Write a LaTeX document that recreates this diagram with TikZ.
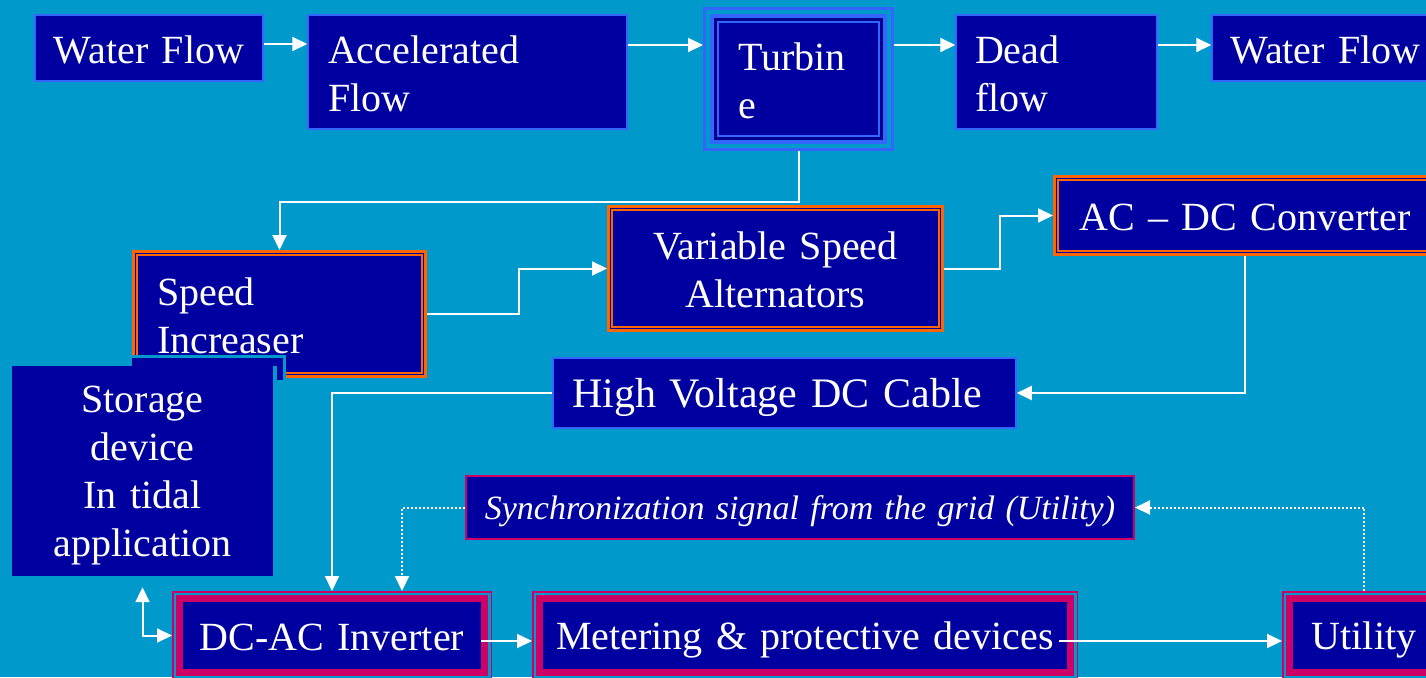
\documentclass[tikz,border=0pt]{standalone}
\usepackage{fontspec}
\setmainfont{Liberation Serif}
\usetikzlibrary{arrows.meta,calc}
\definecolor{bgc}{HTML}{0099CC}
\definecolor{navy}{HTML}{0000A0}
\definecolor{dnavy}{HTML}{00008C}
\definecolor{lblue}{HTML}{3366FF}
\definecolor{org}{HTML}{FF6600}
\definecolor{mag}{HTML}{CC0066}
\newcommand\ms{\rule[-0.15em]{0pt}{1.05em}}
\begin{document}
\begin{tikzpicture}[x=1pt,y=1pt,
  every node/.style={font=\fontsize{40}{48}\selectfont, text=white, inner sep=0pt},
  thinbox/.style={draw=lblue, line width=1.5pt, fill=navy},
  orgbox/.style={draw=org, line width=3pt, fill=navy,
    path picture={\draw[org,line width=2pt] ([shift={(3.8pt,-3.8pt)}]path picture bounding box.north west) rectangle ([shift={(-3.8pt,3.8pt)}]path picture bounding box.south east);}},
  magbox/.style={draw=mag, line width=1.5pt, fill=bgc,
    path picture={\draw[mag,line width=7pt,fill=navy] ([shift={(6.75pt,-6.75pt)}]path picture bounding box.north west) rectangle ([shift={(-6.75pt,6.75pt)}]path picture bounding box.south east);}},
  turbox/.style={draw=lblue, line width=3pt, fill=bgc,
    path picture={\draw[lblue,line width=4pt,fill=dnavy] ([shift={(7.5pt,-7.5pt)}]path picture bounding box.north west) rectangle ([shift={(-7.5pt,7.5pt)}]path picture bounding box.south east);
    \draw[lblue,line width=2pt,fill=navy] ([shift={(13.5pt,-13.5pt)}]path picture bounding box.north west) rectangle ([shift={(-13.5pt,13.5pt)}]path picture bounding box.south east);}},
  arr/.style={draw=white, line width=2pt, -{Triangle[length=15pt,width=14pt]}},
  arrd/.style={arr, dash pattern=on 2pt off 2pt},
  arrb/.style={draw=white, line width=2pt, {Triangle[length=15pt,width=14pt]}-{Triangle[length=15pt,width=14pt]}}
]
\useasboundingbox (0,0) rectangle (1426,-677);
\clip (0,0) rectangle (1426,-677);
\fill[bgc] (0,0) rectangle (1426,-677);

% top row
\node[thinbox, minimum height=66pt, text width=228pt, align=center] (wf1) at (149,-48) {\ms Water Flow};
\node[thinbox, minimum height=114pt, text width=279pt, inner xsep=20pt, align=left] (acc) at (467.5,-72) {\ms Accelerated\\\ms Flow};
\node[turbox, minimum height=141pt, text width=121pt, inner xsep=33.5pt, align=left] (tur) at (798.5,-79) {\ms Turbin\\\ms e};
\node[thinbox, minimum height=114pt, text width=163pt, inner xsep=19pt, align=left] (dead) at (1056.5,-72) {\ms Dead\\\ms flow};
\node[thinbox, minimum height=66pt, text width=227pt, align=center] (wf2) at (1325.5,-48) {\ms Water Flow};

% middle
\node[orgbox, minimum height=125pt, text width=245pt, inner xsep=23.5pt, align=left] (si) at (279.5,-314) {\ms Speed\\\ms Increaser};
\node[orgbox, minimum height=124pt, text width=334pt, align=center] (vsa) at (775.5,-268.5) {\ms Variable Speed\\\ms Alternators};
\node[orgbox, minimum height=78pt, text width=381pt, align=center] (acdc) at (1245,-215.5) {\ms AC – DC Converter};
\node[thinbox, minimum height=70pt, text width=425pt, inner xsep=19pt, align=left, font=\fontsize{42}{48}\selectfont] (hv) at (784.5,-393) {\ms High Voltage DC Cable};

% storage overlay
\fill[navy] (131.5,-356) rectangle (284,-380);
\draw[bgc, line width=3pt] (131.5,-356) -- (284,-356) -- (284,-380);
\node[fill=navy, minimum height=210pt, text width=261pt, align=center] (st) at (142.5,-471) {\ms Storage\\\ms device\\\ms In tidal\\\ms application};
\draw[bgc, line width=4pt] ([xshift=2pt]st.north east) -- ([xshift=2pt,yshift=-14pt]st.north east);

% sync
\node[draw=mag, line width=2pt, fill=navy, minimum height=63pt, text width=668pt, align=center, font=\fontsize{34}{40}\selectfont\itshape] (sy) at (800,-507.5) {\ms Synchronization signal from the grid (Utility)};

% bottom row
\node[magbox, minimum height=87.5pt, text width=318.5pt, align=center] (inv) at (332,-635.5) {\ms DC-AC Inverter};
\node[magbox, minimum height=87.5pt, text width=544.5pt, align=center] (met) at (805,-635.5) {\ms Metering \& protective devices};
\node[magbox, minimum height=87.5pt, text width=162.5pt, align=center] (ut) at (1364,-635.5) {\ms Utility};

% connectors
\draw[arr] (wf1.east |- 0,-44) -- (acc.west |- 0,-44);
\draw[arr] (acc.east |- 0,-45) -- (tur.west |- 0,-45);
\draw[arr] (tur.east |- 0,-45) -- (dead.west |- 0,-45);
\draw[arr] (dead.east |- 0,-45) -- (wf2.west |- 0,-45);
\draw[arr] (tur.south) -- ++(0,-50.5) -| (si.north);
\draw[arr] (si.east) -- ++(91.5,0) |- (vsa.west);
\draw[arr] (vsa.east) -- ++(55.5,0) |- (acdc.west);
\draw[arr] (acdc.south) |- (hv.east);
\draw[arr] (hv.west) -| (inv.north);
\draw[arrd] (sy.west) -| ([xshift=70pt]inv.north);
\draw[arrd] (ut.north) |- (sy.east);
\draw[arrb] ([yshift=-11pt]st.south) |- (inv.west);
\draw[arr] ([shift={(-11pt,-5.5pt)}]inv.east) -- ([yshift=-5.5pt]met.west);
\draw[arr] ([shift={(-19pt,-5.5pt)}]met.east) -- ([yshift=-5.5pt]ut.west);
\end{tikzpicture}
\end{document}
